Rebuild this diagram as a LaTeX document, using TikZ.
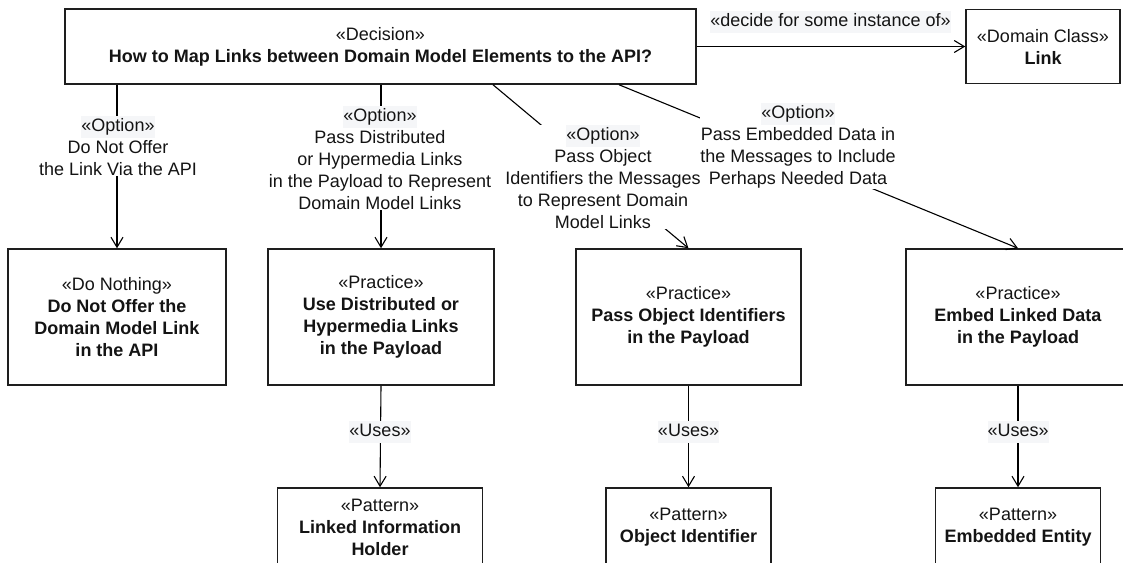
\documentclass[tikz,border=0pt]{standalone}
\usepackage{fontspec}
\setmainfont{Liberation Sans}
\usetikzlibrary{arrows.meta}
\definecolor{stereobg}{RGB}{245,246,248}
\definecolor{boxline}{RGB}{30,30,30}
% stereotype line of an edge label, set on a pale tinted band
\newcommand\stereo[1]{{\setlength\fboxsep{0pt}\colorbox{stereobg}{\strut#1}}}
\begin{document}
\begin{tikzpicture}[x=1pt,y=-1pt,
  every node/.style={font=\fontsize{18}{22}\selectfont, text=black!92},
  box/.style={draw=boxline, line width=1.5pt, fill=white, align=center, inner sep=0pt},
  conn/.style={draw=black, line width=1.1pt, -{Straight Barb[length=10pt,width=12pt]}},
  lbl/.style={fill=white, align=center, inner sep=0.5pt}
]
\useasboundingbox (0,0) rectangle (1123,562);

% decision and the domain class it refers to
\node[box, minimum width=631pt, minimum height=75pt] (dec) at (380.5,46.5)
  {«Decision»\\\textbf{How to Map Links between Domain Model Elements to the API?}};
\node[box, minimum width=154pt, minimum height=74pt] (dom) at (1043,46.5)
  {«Domain Class»\\\textbf{Link}};

% options
\node[box, minimum width=218pt, minimum height=136pt] (nothing) at (117,317)
  {«Do Nothing»\\\textbf{Do Not Offer the}\\\textbf{Domain Model Link}\\\textbf{in the API}};
\node[box, minimum width=226pt, minimum height=136pt] (hyper) at (381,317)
  {«Practice»\\\textbf{Use Distributed or}\\\textbf{Hypermedia Links}\\\textbf{in the Payload}};
\node[box, minimum width=225pt, minimum height=136pt] (objid) at (688.5,317)
  {«Practice»\\\textbf{Pass Object Identifiers}\\\textbf{in the Payload}};
\node[box, minimum width=224pt, minimum height=136pt] (embed) at (1018,317)
  {«Practice»\\\textbf{Embed Linked Data}\\\textbf{in the Payload}};

% patterns
\node[box, minimum width=205pt, minimum height=78pt] (lih) at (380,527)
  {«Pattern»\\\textbf{Linked Information}\\\textbf{Holder}};
\node[box, minimum width=165pt, minimum height=78pt] (oid) at (688.5,527)
  {«Pattern»\\\textbf{Object Identifier}};
\node[box, minimum width=165pt, minimum height=78pt] (ent) at (1018,527)
  {«Pattern»\\\textbf{Embedded Entity}};

% connectors
\draw[conn] (dec.east) -- (dom.west);
\draw[conn] (dec.south -| nothing.north) -- (nothing.north);
\draw[conn] (dec.south -| hyper.north) -- (hyper.north);
\draw[conn] ([xshift=112.5pt]dec.south) -- (objid.north);
\draw[conn] ([xshift=238.5pt]dec.south) -- (embed.north);
\draw[conn] (hyper.south) -- (lih.north);
\draw[conn] (objid.south) -- (oid.north);
\draw[conn] (embed.south) -- (ent.north);

% connector labels
\node[inner sep=0pt] (ldec) at (830.5,22) {\stereo{«decide for some instance of»}};
\node[lbl] (l1) at (118,146) {\stereo{«Option»}\\Do Not Offer\\the Link Via the API};
\node[lbl] (l2) at (380,158) {\stereo{«Option»}\\Pass Distributed\\or Hypermedia Links\\in the Payload to Represent\\Domain Model Links};
\node[lbl] (l3) at (603,177) {\stereo{«Option»}\\Pass Object\\Identifiers the Messages\\to Represent Domain\\Model Links};
\node[lbl] (l4) at (798,146) {\stereo{«Option»}\\Pass Embedded Data in\\the Messages to Include\\Perhaps Needed Data};
\node[lbl, inner sep=0pt] (u1) at (380,432) {\stereo{«Uses»}};
\node[lbl, inner sep=0pt] (u2) at (688.5,432) {\stereo{«Uses»}};
\node[lbl, inner sep=0pt] (u3) at (1018,432) {\stereo{«Uses»}};
\end{tikzpicture}
\end{document}
